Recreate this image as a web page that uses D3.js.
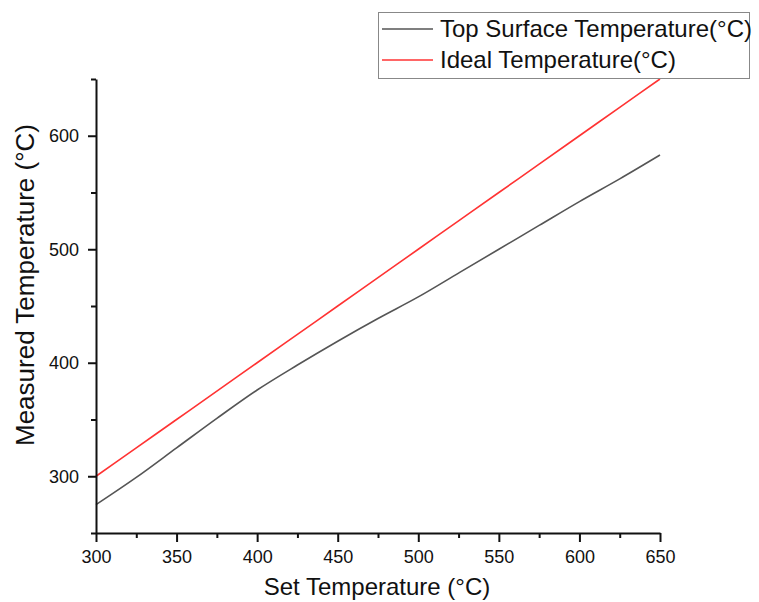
<!DOCTYPE html>
<html>
<head>
<meta charset="utf-8">
<script src="https://cdn.jsdelivr.net/npm/d3@7/dist/d3.min.js"></script>
<style>
  html, body { margin: 0; padding: 0; background: #fff; }
  svg { display: block; font-family: "Liberation Sans", Arial, sans-serif; }
</style>
</head>
<body>
<svg id="chart" width="759" height="602"></svg>
<script>
// Set temperature (°C) sampled every 25 °C
const setTemps = [300, 325, 350, 375, 400, 425, 450, 475, 500, 525, 550, 575, 600, 625, 650];
// Measured top surface temperature (°C)
const topSurface = [275, 299, 325, 351, 376, 398, 419, 439, 458, 479, 500, 521, 542, 562, 583];
// Ideal response: measured equals set
const idealTemps = [300, 325, 350, 375, 400, 425, 450, 475, 500, 525, 550, 575, 600, 625, 650];

const xMajorTicks = [300, 350, 400, 450, 500, 550, 600, 650];
const xMinorTicks = [325, 375, 425, 475, 525, 575, 625];
const yMajorTicks = [300, 400, 500, 600];
const yMinorTicks = [250, 350, 450, 550, 650];

const seriesNames = ["Top Surface Temperature(°C)", "Ideal Temperature(°C)"];
const seriesColors = ["#555555", "#ff3333"];

const svg = d3.select("#chart");
const plot = { left: 96, right: 660, top: 79, bottom: 533 };

const x = d3.scaleLinear().domain([300, 650]).range([plot.left, plot.right]);
const y = d3.scaleLinear().domain([250, 650]).range([plot.bottom, plot.top]);

// Series lines
const series = [topSurface, idealTemps];
const line = d3.line().x((d, i) => x(setTemps[i])).y(d => y(d)).curve(d3.curveMonotoneX);
series.forEach((vals, k) => {
  svg.append("path")
    .datum(vals)
    .attr("fill", "none")
    .attr("stroke", seriesColors[k])
    .attr("stroke-width", 1.6)
    .attr("d", line);
});

// Bottom axis: major ticks labelled, minor ticks unlabelled
const xAxisG = svg.append("g").attr("transform", `translate(0,${plot.bottom})`);
xAxisG.call(d3.axisBottom(x).tickValues(xMajorTicks).tickSize(9).tickSizeOuter(0).tickPadding(8));
xAxisG.append("g").call(d3.axisBottom(x).tickValues(xMinorTicks).tickSize(5).tickFormat("").tickSizeOuter(0))
  .select(".domain").remove();

// Left axis
const yAxisG = svg.append("g").attr("transform", `translate(${plot.left},0)`);
yAxisG.call(d3.axisLeft(y).tickValues(yMajorTicks).tickSize(8).tickSizeOuter(0).tickPadding(9));
yAxisG.append("g").call(d3.axisLeft(y).tickValues(yMinorTicks).tickSize(5).tickFormat("").tickSizeOuter(0))
  .select(".domain").remove();

svg.selectAll(".domain").attr("stroke", "#111").attr("stroke-width", 2);
svg.selectAll(".tick line").attr("stroke", "#111").attr("stroke-width", 2);
svg.selectAll(".tick text").attr("font-size", 18).attr("fill", "#111")
  .attr("font-family", "'Liberation Sans', Arial, sans-serif");

// Axis titles
svg.append("text")
  .attr("x", 377)
  .attr("y", 595)
  .attr("text-anchor", "middle")
  .attr("font-size", 24)
  .attr("fill", "#111")
  .text("Set Temperature (°C)");

svg.append("text")
  .attr("transform", "translate(34,285) rotate(-90)")
  .attr("text-anchor", "middle")
  .attr("font-size", 26)
  .attr("fill", "#111")
  .text("Measured Temperature (°C)");

// Legend
const legend = svg.append("g");
legend.append("rect")
  .attr("x", 378.5).attr("y", 12.5)
  .attr("width", 371).attr("height", 66)
  .attr("fill", "#fff").attr("stroke", "#888").attr("stroke-width", 1);
seriesNames.forEach((name, k) => {
  const cy = 29 + k * 31;
  legend.append("line")
    .attr("x1", 382).attr("x2", 433)
    .attr("y1", cy).attr("y2", cy)
    .attr("stroke", seriesColors[k]).attr("stroke-width", 1.6);
  legend.append("text")
    .attr("x", 440).attr("y", cy + 8)
    .attr("font-size", 24)
    .attr("fill", "#111")
    .text(name);
});
</script>
</body>
</html>
